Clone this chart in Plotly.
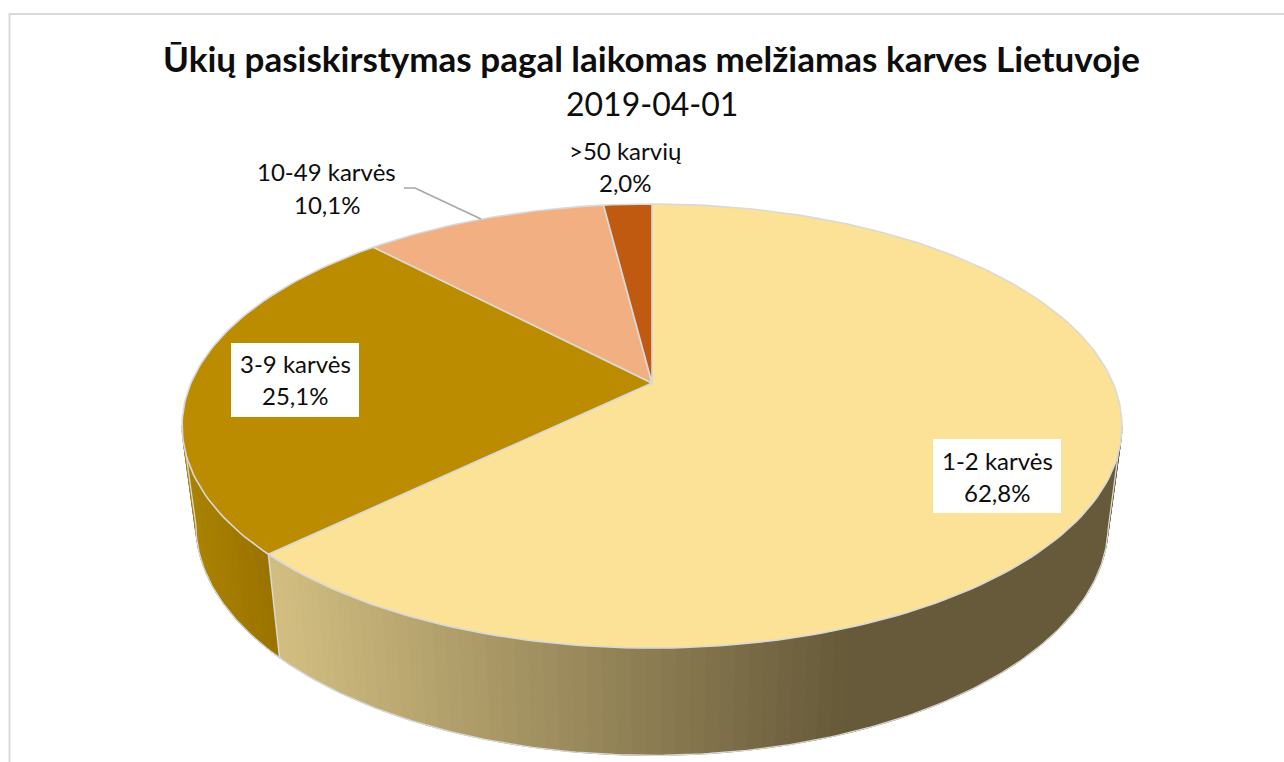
import math
import plotly.graph_objects as go

# ---- data ----
categories = ["1-2 karvės", "3-9 karvės", "10-49 karvės", ">50 karvių"]
shares = [62.8, 25.1, 10.1, 2.0]
title_text = "Ūkių pasiskirstymas pagal laikomas melžiamas karves Lietuvoje"
subtitle_text = "2019-04-01"

# ---- styles ----
top_colors = ["#FBE297", "#BC8C00", "#F1AF82", "#C05A10"]
EDGE = "#D9D9D9"
FONT = "Lato"
TEXT = "#0D0D0D"

# ---- projection of the tilted disc onto the page ----
CX, CY = 652, 383
A, B, K = 461, 213.7, 0.1937
A2, B2, CY2 = 447.5, 222, 480


def rim(t):
    u, v = math.sin(t), math.cos(t)
    w = 1 + K * v
    return CX + A * u / w, CY - B * v / w


def lower(t):
    u, v = math.sin(t), math.cos(t)
    w = 1 + K * v
    return CX + A2 * u / w, CY2 - B2 * v / w


def mix(c0, c1, f):
    f = max(0.0, min(1.0, f))
    return "rgb(%d,%d,%d)" % tuple(round(a + (b - a) * f) for a, b in zip(c0, c1))


def side_color(i, x):
    if i == 0:
        return mix((0xD1, 0xBD, 0x80), (0x67, 0x5A, 0x3A), (x - 280) / 565)
    return mix((0xAA, 0x82, 0x00), (0x9A, 0x72, 0x00), (x - 185) / 85)


fig = go.Figure()

# slice angles follow the shares, clockwise from 12 o'clock
total = sum(shares)
edges = [0.0]
for value in shares:
    edges.append(edges[-1] + value / total * 2 * math.pi)

# side wall (only the part facing the viewer, between the two tangent points)
VIS0 = math.acos(-K)
VIS1 = 2 * math.pi - VIS0
STEP = math.radians(1.5)
for i, value in enumerate(shares):
    a0, a1 = max(edges[i], VIS0), min(edges[i + 1], VIS1)
    t = a0
    while t < a1 - 1e-9:
        t2 = min(t + STEP, a1)
        p1, p2 = rim(t), rim(t2)
        q1, q2 = lower(t), lower(t2)
        col = side_color(i, (p1[0] + p2[0]) / 2)
        fig.add_trace(go.Scatter(
            x=[p1[0], p2[0], q2[0], q1[0], p1[0]],
            y=[p1[1], p2[1], q2[1], q1[1], p1[1]],
            mode="lines", fill="toself", fillcolor=col,
            line=dict(color=col, width=1), hoverinfo="skip", showlegend=False))
        t = t2

# outer lower edge and the divider on the wall
N = 240
low = [rim(VIS0)] + [lower(VIS0 + (VIS1 - VIS0) * n / N) for n in range(N + 1)] + [rim(VIS1)]
fig.add_trace(go.Scatter(x=[p[0] for p in low], y=[p[1] for p in low], mode="lines",
                         line=dict(color=EDGE, width=1.3), hoverinfo="skip", showlegend=False))
p = rim(edges[1])
q = lower(edges[1])
fig.add_trace(go.Scatter(x=[p[0], q[0]], y=[p[1], q[1]], mode="lines",
                         line=dict(color=EDGE, width=1.6), hoverinfo="skip", showlegend=False))

# top face
for i, (name, value) in enumerate(zip(categories, shares)):
    n = max(4, int(value * 3))
    pts = [rim(edges[i] + (edges[i + 1] - edges[i]) * j / n) for j in range(n + 1)]
    xs = [CX] + [p[0] for p in pts] + [CX]
    ys = [CY] + [p[1] for p in pts] + [CY]
    fig.add_trace(go.Scatter(x=xs, y=ys, mode="lines", fill="toself", name=name,
                             fillcolor=top_colors[i],
                             line=dict(color=EDGE, width=1.6), hoverinfo="skip",
                             showlegend=False))

# leader line of the 10-49 label
fig.add_trace(go.Scatter(x=[404, 415, 481], y=[188, 188, 219], mode="lines",
                         line=dict(color="#A6A6A6", width=1.5), hoverinfo="skip",
                         showlegend=False))

# ---- labels ----
label_pos = [(997, 460, 492.5), (295, 363.5, 395.5), (326.5, 171, 204.5), (625, 150.5, 182.5)]
label_boxes = {0: (933, 439, 1061, 513), 1: (231, 343, 359, 417)}
shapes = [dict(type="rect", x0=9.5, y0=14, x1=1300, y1=790, xref="x", yref="y",
               line=dict(color=EDGE, width=2), fillcolor="rgba(0,0,0,0)", layer="below")]
for x0, y0, x1, y1 in label_boxes.values():
    shapes.append(dict(type="rect", x0=x0, y0=y0, x1=x1, y1=y1, xref="x", yref="y",
                       line=dict(width=0), fillcolor="white", layer="above"))

annotations = []
for name, value, (x, y1, y2) in zip(categories, shares, label_pos):
    pct = f"{value:.1f}%".replace(".", ",")
    for txt, y in ((name, y1), (pct, y2)):
        annotations.append(dict(x=x, y=y, xref="x", yref="y", text=txt, showarrow=False,
                                xanchor="center", yanchor="middle",
                                font=dict(family=FONT, size=24, color=TEXT)))
annotations.append(dict(x=651.5, y=103, xref="x", yref="y", text=subtitle_text, showarrow=False,
                        xanchor="center", yanchor="middle",
                        font=dict(family=FONT, size=32, color=TEXT)))
annotations.append(dict(x=651, y=57.5, xref="x", yref="y", text="<b>" + title_text + "</b>",
                        showarrow=False, xanchor="center", yanchor="middle",
                        font=dict(family=FONT, size=35, color=TEXT)))

fig.update_layout(
    width=1284, height=762, margin=dict(l=0, r=0, t=0, b=0),
    paper_bgcolor="white", plot_bgcolor="white", showlegend=False,
    xaxis=dict(range=[0, 1284], visible=False, fixedrange=True),
    yaxis=dict(range=[762, 0], visible=False, fixedrange=True),
    shapes=shapes, annotations=annotations)

fig.write_html("out.html", post_script="document.body.style.margin='0';",
               config={"displayModeBar": False})
